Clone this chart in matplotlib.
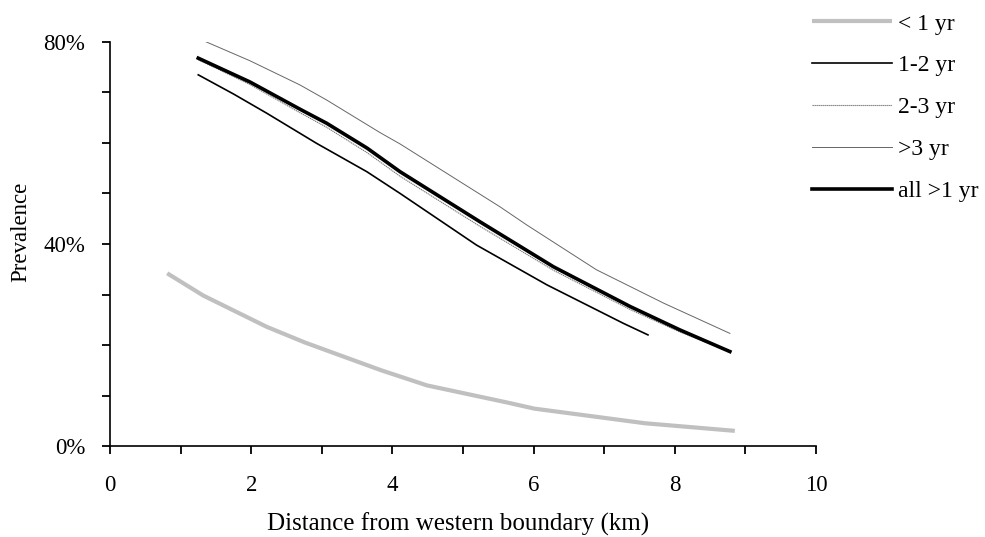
import matplotlib
matplotlib.use("Agg")
import matplotlib.pyplot as plt
from matplotlib.ticker import MultipleLocator, FixedLocator, FuncFormatter

# ---- data (distance km, prevalence %) ----
x_lt1 = [0.81, 1.32, 2.22, 2.76, 3.25, 3.84, 4.49, 5.63, 6.01, 7.04, 7.58, 8.85]
y_lt1 = [34.2, 29.8, 23.6, 20.5, 18.0, 15.0, 12.0, 8.6, 7.4, 5.5, 4.5, 3.0]

x_12 = [1.25, 1.75, 2.22, 2.93, 3.26, 3.64, 4.11, 5.19, 6.19, 7.27, 7.62]
y_12 = [73.5, 69.7, 65.9, 59.9, 57.3, 54.3, 50.0, 39.8, 31.9, 24.3, 22.0]

x_23 = [1.25, 1.98, 2.69, 3.07, 3.64, 4.11, 5.24, 6.28, 7.37, 8.07, 8.75]
y_23 = [76.5, 71.6, 66.0, 63.1, 58.1, 53.4, 43.5, 34.8, 27.0, 22.6, 18.8]

x_gt3 = [1.30, 1.98, 2.69, 3.07, 3.82, 4.11, 5.52, 5.90, 6.89, 7.84, 8.78]
y_gt3 = [80.4, 76.3, 71.5, 68.5, 62.1, 59.8, 47.4, 43.8, 34.9, 28.3, 22.3]

x_all = [1.25, 1.98, 2.69, 3.07, 3.64, 4.11, 5.24, 6.28, 7.37, 8.07, 8.78]
y_all = [76.8, 72.1, 66.7, 63.9, 59.0, 54.3, 44.4, 35.5, 27.6, 23.0, 18.7]

labels = ["< 1 yr", "1-2 yr", "2-3 yr", ">3 yr", "all >1 yr"]
x_ticks = [0, 2, 4, 6, 8, 10]
y_ticks = [0, 40, 80]

plt.rcParams['font.family'] = ['Liberation Serif', 'DejaVu Serif']
FS = 16.5

fig = plt.figure(figsize=(9.85, 5.37), dpi=100)
ax = fig.add_axes([110/985, 1-446/537, (816-110)/985, (446-42)/537])

l1, = ax.plot(x_lt1, y_lt1, color='#C0C0C0', lw=3.0, solid_capstyle='butt')
l2, = ax.plot(x_12, y_12, color='black', lw=1.2)
l3, = ax.plot(x_23, y_23, color='#777777', lw=0.8, ls=(0, (1.2, 0.6)))
l4, = ax.plot(x_gt3, y_gt3, color='#666666', lw=0.7)
l5, = ax.plot(x_all, y_all, color='black', lw=2.6)

ax.set_xlim(0, 10)
ax.set_ylim(0, 80)
ax.xaxis.set_major_locator(FixedLocator(x_ticks))
ax.xaxis.set_minor_locator(MultipleLocator(1))
ax.yaxis.set_major_locator(FixedLocator(y_ticks))
ax.yaxis.set_minor_locator(MultipleLocator(10))
ax.yaxis.set_major_formatter(FuncFormatter(lambda v, p: f"{int(v)}%"))

for s in ['top', 'right']:
    ax.spines[s].set_visible(False)
for s in ['left', 'bottom']:
    ax.spines[s].set_linewidth(1.2)
    ax.spines[s].set_color('black')

ax.tick_params(axis='both', which='both', direction='out', length=6, width=1.3, colors='black', labelsize=FS)
ax.tick_params(axis='x', which='major', pad=15)
ax.tick_params(axis='y', which='major', pad=12)

ax.set_xlabel("Distance from western boundary (km)", fontsize=18, labelpad=12)
ax.xaxis.set_label_coords(0.493, -0.165)
ax.set_ylabel("Prevalence", fontsize=FS)
ax.yaxis.set_label_coords(-0.112, 0.531)

leg = fig.legend([l1, l2, l3, l4, l5], labels, loc='upper left',
                 bbox_to_anchor=(812/985, 1-13/537), frameon=False, fontsize=17,
                 handlelength=3.4, handletextpad=0.25, labelspacing=0.86,
                 borderpad=0, borderaxespad=0)

fig.savefig("out.png", dpi=100)
